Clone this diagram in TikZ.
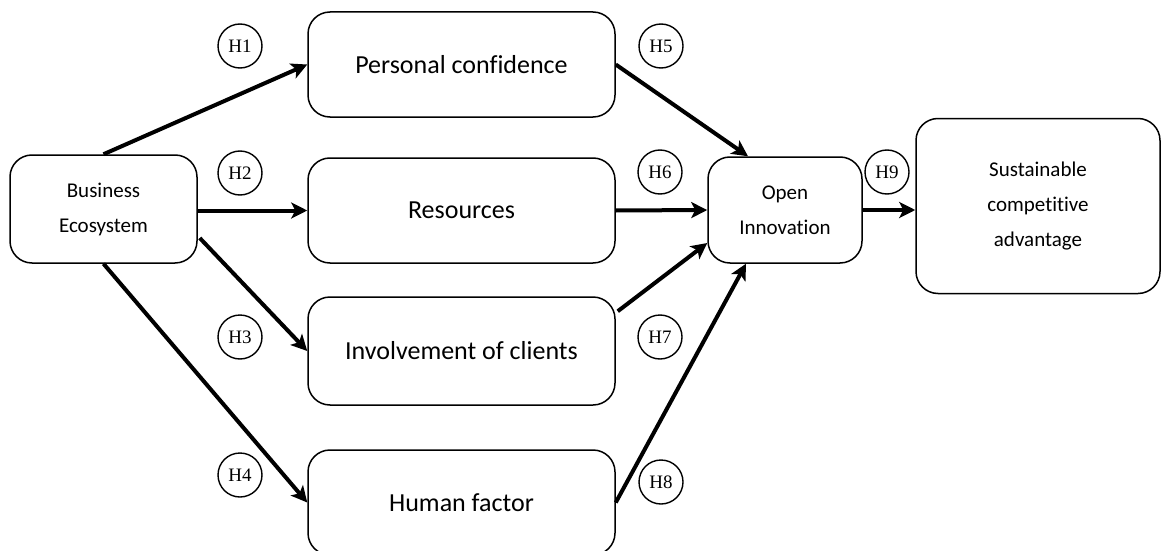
\documentclass[tikz,border=0pt]{standalone}
\usepackage{fontspec}
\setmainfont{Carlito}[Ligatures=NoCommon]
\newfontfamily\hypfont{Liberation Serif}
\usetikzlibrary{calc,positioning,arrows.meta,shapes}

\tikzset{
	box/.style={draw, line width=1.5pt, rounded corners=22pt, align=center, inner sep=0pt},
	bigbox/.style={box, font=\fontsize{26}{32}\selectfont, minimum width=307pt, minimum height=105pt},
	smallbox/.style={box, font=\fontsize{21}{35}\selectfont},
	hyp/.style={draw, circle, line width=1.4pt, minimum size=44pt, inner sep=0pt, font=\hypfont\fontsize{19}{19}\selectfont},
	link/.style={line width=4pt, -{Stealth[length=16pt,width=16pt,inset=4pt]}}
}

\begin{document}
\begin{tikzpicture}[x=1pt, y=-1pt]
			\fill[white] (0,0) rectangle (1162,551);
			\useasboundingbox (0,0) rectangle (1162,551);

			\node[smallbox, minimum width=187pt, minimum height=108pt] (be) at(103.5, 209){Business\\Ecosystem};

			\node[bigbox] (pc) at(461.5, 64.5){Personal confidence};
			\node[bigbox] (res) at(461.5, 210.5){Resources};
			\node[bigbox, minimum height=108pt] (inv) at(461.5, 351){Involvement of clients};
			\node[bigbox] (hf) at(461.5, 502.5){Human factor};

			\node[smallbox, minimum width=154pt, minimum height=106pt] (oi) at(785, 210){Open\\Innovation};
			\node[smallbox, minimum width=244pt, minimum height=175pt] (sca) at(1038, 206){Sustainable\\competitive\\advantage};

			\node[hyp] (h1) at(240, 46){H1};
			\node[hyp] (h2) at(240, 173){H2};
			\node[hyp] (h3) at(240, 337){H3};
			\node[hyp] (h4) at(240, 475){H4};
			\node[hyp] (h5) at(661, 46){H5};
			\node[hyp] (h6) at(660, 172){H6};
			\node[hyp] (h7) at(660, 337){H7};
			\node[hyp] (h8) at(661, 482){H8};
			\node[hyp] (h9) at(887, 172){H9};

			\draw[link] (be.north) to (pc.west);
			\draw[link] (be.east |- res.west) to (res.west);
			\draw[link] ($(be.east)+(2,29)$) to (inv.west);
			\draw[link] (be.south) to (hf.west);

			\draw[link] (pc.east) to ($(oi.north)+(-37,0)$);
			\draw[link] (res.east) to (oi.west);
			\draw[link] ($(inv.north east)+(2,15)$) to ($(oi.west)+(0,33)$);
			\draw[link] (hf.east) to ($(oi.south)+(-39,0)$);

			\draw[link] (oi.east) to (sca.west |- oi.east);
\end{tikzpicture}
\end{document}
